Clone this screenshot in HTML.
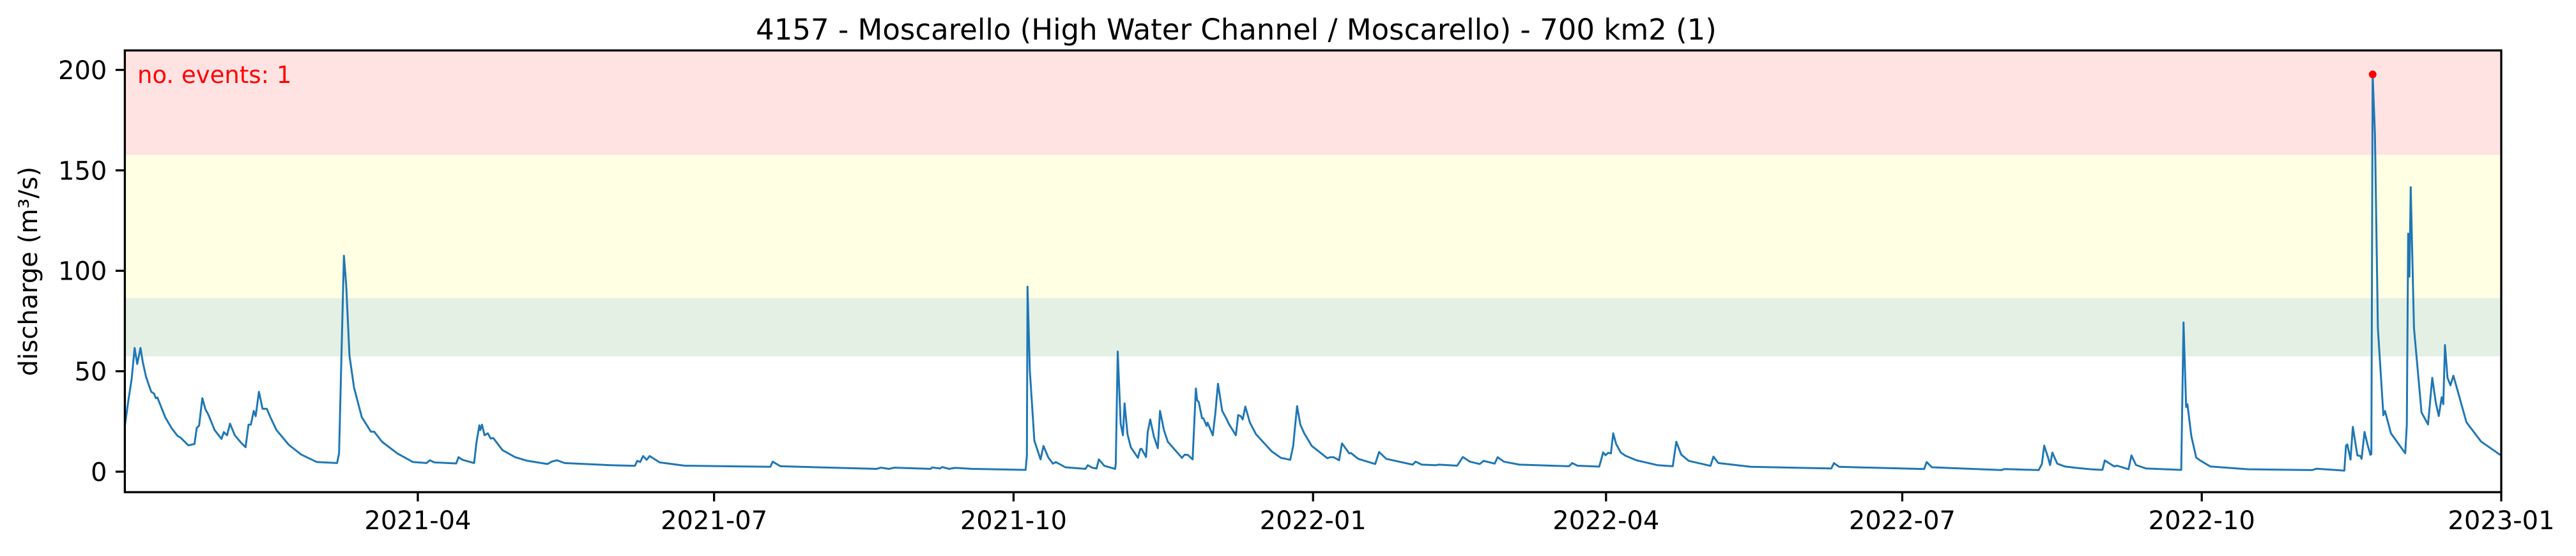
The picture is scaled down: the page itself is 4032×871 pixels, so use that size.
<!DOCTYPE html>
<html>
<head>
<meta charset="utf-8">
<style>
  html, body { margin: 0; padding: 0; background: #ffffff; }
  svg { display: block; font-family: "DejaVu Sans", "Liberation Sans", sans-serif; }
</style>
</head>
<body>
<svg id="chart" xmlns="http://www.w3.org/2000/svg" width="4032" height="871" viewBox="0 0 4032 871">
  <rect x="0" y="0" width="4032" height="871" fill="#ffffff"/>
  <g id="bands"></g>
  <g id="series"></g>
  <g id="axes"></g>
  <text x="1935" y="62" font-size="45" text-anchor="middle" fill="#000">4157 - Moscarello (High Water Channel / Moscarello) - 700 km2 (1)</text>
  <text transform="translate(58,425) rotate(-90)" font-size="40" text-anchor="middle" fill="#000">discharge (m³/s)</text>
  <text x="215" y="130" font-size="37" fill="#ff0000">no. events: 1</text>
</svg>
<script>
// ---- data (day offsets from 2021-01-01, discharge m3/s) ----
const dayOffsets = [0,1.1,2.1,3,3.8,4.8,5.5,6.5,8.1,9,9.5,10,12.4,14.3,16.2,17.1,19.5,21.4,22.1,22.8,23.8,24.7,25.7,27.6,29.7,30.4,31.4,32.3,33.8,35.7,37.1,38,38.7,39.6,40.2,41.2,42.3,43.6,44.7,46.6,50.4,54.2,59,65.2,65.8,66.6,67.3,68,69,70.4,72.8,75.6,76.6,79,83.7,88.5,92.7,93.7,95.1,101.8,102.5,103.7,107.3,108,108.9,109.2,109.7,110.5,111.5,112.4,113.2,116,119.9,123.7,129.8,131.1,132.7,135.1,149.1,
156.7,157.4,158.3,159.2,160.3,161.2,164.3,171.9,198.3,199,201.4,230.9,232.3,234.7,236.4,247.5,248,250.4,251.1,253.2,255.1,260.3,276.7,277.1,277.3,278,279.4,281.3,282.2,283.7,285.1,286,288.9,295.1,295.8,297.3,
298.5,299.2,300.9,304.2,304.4,305,305.9,306.6,307.1,308,309,311.2,311.9,312.3,313.7,314.2,315,316.1,317.3,318,319.2,320.4,324.7,325.6,326.6,328,329,329.4,329.9,330.9,331.3,332.3,332.6,334.2,335,335.8,337.1,338.5,339.1,341.3,342,342.8,343.4,344.2,345.6,347.5,352.3,355.1,358,358.9,360.1,361.1,362.3,364.6,369.4,370.3,371.3,373,373.9,376.1,376.6,378.9,384.1,385.3,387.5,395.6,396.5,398.4,402.7,403.6,409.3,411,413.2,416.2,417.4,420.8,421.7,423.6,428.4,443.6,444.6,446.2,
452.9,453.6,454.1,454.8,455.7,456.5,457.2,458.1,459.5,460.9,464.3,470.9,475.5,476.6,478.1,480.4,487.1,488,489.5,499.5,524.2,525,526.6,552.7,553.5,555.1,576.5,577.3,587.9,588.9,589.6,590.8,591.4,592.1,593.6,595.9,599.4,603.9,607.5,608.2,611.1,612,615.5,616.4,617.8,620.9,631.7,632.4,633.2,633.6,634.8,636.3,637.5,640.6,652.2,671.9,673.3,681.8,682.3,682.7,683.7,684.4,685.8,686.7,687.1,688,688.9,689.8,690.1,690.5,691.2,692.1,693.8,694.3,696.1,700.5,701,701.4,701.8,702.2,703.2,705.5,707.5,708.8,709.9,710.8,711.7,712.2,712.7,713.5,714.4,715.3,716.7,719.3,723.8,730];
const dischargeValues = [22.8,35.6,46.2,61.6,53.6,61.6,54.7,47.3,39.8,38.8,36.6,36.9,27.1,21.8,17.8,17,13.1,13.8,21.8,22.9,36.6,31.3,28.2,20.7,16.3,19.7,18.1,23.9,18.1,14.4,12.2,23.4,23.4,30.3,27.6,39.8,31.3,31.3,27.1,20.7,13.3,8.5,4.8,4.3,9.1,61,107.5,92.8,57.8,41.9,27.1,19.9,19.9,14.9,9.1,4.8,4.3,5.7,4.6,4.1,7.2,5.9,4.3,14.4,23.1,20.7,23.4,18.1,19.1,16.5,16.7,10.7,7.2,5.4,3.8,5,5.7,4.3,3.2,
2.9,5.4,4.8,7.8,5.9,7.8,4.6,3,2.4,5,2.7,1.4,2,1.4,2,1.4,2.1,1.6,2.3,1.4,1.9,1.4,0.9,8,92.1,50.4,15.4,6.1,12.8,7,4,4.8,2.2,1.4,3.2,1.9,
1.6,6.1,2.9,1.4,3.8,59.8,23.9,18.1,34,18.6,12.2,6.9,11.2,11.4,7.3,19.7,26,17.6,11.7,30.3,20.7,14.9,6.9,8.5,8.3,6.1,41.4,35.6,34.5,26.6,26.6,22.8,24.4,18.1,29.2,43.8,30.3,26,23.9,18.1,28.2,27.6,26,32.4,24.4,18.6,10.1,6.9,5.9,12.8,32.6,23.4,19.1,12.8,6.7,7.2,7.2,5.7,14.1,9.1,9.3,6.4,3.8,9.8,6.4,3.5,5,3.5,3.2,3.5,3,7.3,5,3.8,5.4,4,7.2,5,3.5,2.7,4.3,3,
2.5,6.4,9.6,8.2,9.4,9.1,19.1,13.8,9.6,8,5.7,3.2,2.7,14.9,8.5,5.4,2.9,7.5,4.3,2.4,1.6,4.3,2.4,1.3,4.8,2.2,0.8,1.3,0.8,3.8,13,7,3.3,9.5,4,2.6,1.9,1.2,0.9,5.6,2.6,3,1.2,8.1,3.3,1.6,0.9,74.3,32.2,33.6,17.7,7,5.6,2.6,1.2,0.8,1.5,0.5,12.9,13.6,6,22.3,8.1,7.8,6.4,19.8,13.6,8.4,8.8,197.8,168.1,71.5,28.1,30.2,19.1,9.2,23.3,118.5,97.1,141.6,71.5,29.5,23.5,46.7,34.3,27.7,37.1,33.6,63,46.7,43,47.8,39.8,24.6,15,8];
const eventDays = [690.5];
const eventValues = [197.8];
const bandLower = [57.4, 86.4, 157.7];
const bandUpper = [86.4, 157.7, 215];
const bandColors = ["#e5f0e5", "#ffffe3", "#ffe3e3"];
const bandNames = ["band-normal", "band-warning", "band-alert"];
const yTickValues = [0, 50, 100, 150, 200];
const xTickDays = [90, 181, 273, 365, 455, 546, 638, 730];
const xTickLabels = ["2021-04","2021-07","2021-10","2022-01","2022-04","2022-07","2022-10","2023-01"];

// ---- scales ----
const L = 195.4, R = 3915, T = 79, B = 771;
const xMin = 0, xMax = 730, yMin = -10.2, yMax = 209.7;
const NS = "http://www.w3.org/2000/svg";
function xs(d) { return L + (d - xMin) / (xMax - xMin) * (R - L); }
function ys(v) { return B - (v - yMin) / (yMax - yMin) * (B - T); }
function mk(tag, attrs, parent) {
  const e = document.createElementNS(NS, tag);
  for (const k in attrs) e.setAttribute(k, attrs[k]);
  parent.appendChild(e);
  return e;
}

const bands = document.getElementById('bands');
for (let i = 0; i < bandLower.length; i++) {
  const top = Math.max(T, ys(bandUpper[i]));
  const r = mk('rect', {x: L, y: top, width: R - L, height: ys(bandLower[i]) - top, fill: bandColors[i]}, bands);
  
  
}

const series = document.getElementById('series');
let dstr = '';
for (let i = 0; i < dayOffsets.length; i++) {
  dstr += (i ? 'L' : 'M') + xs(dayOffsets[i]).toFixed(1) + ',' + ys(dischargeValues[i]).toFixed(1);
}
const line = mk('path', {d: dstr, fill: 'none', stroke: '#1f77b4', 'stroke-width': 3, 'stroke-linejoin': 'round'}, series);


for (let i = 0; i < eventDays.length; i++) {
  const c = mk('circle', {cx: xs(eventDays[i]), cy: ys(eventValues[i]), r: 6, fill: '#ff0000'}, series);
  
  
}

const axes = document.getElementById('axes');
const frame = mk('rect', {x: L, y: T, width: R - L, height: B - T, fill: 'none', stroke: '#000', 'stroke-width': 3.3}, axes);


for (let i = 0; i < yTickValues.length; i++) {
  const y = ys(yTickValues[i]);
  const t = mk('line', {x1: L - 14.5, x2: L, y1: y, y2: y, stroke: '#000', 'stroke-width': 3.3}, axes);
  
  
  const lb = mk('text', {x: L - 28, y: y + 14.5, 'font-size': 40, 'text-anchor': 'end', fill: '#000'}, axes);
  lb.textContent = String(yTickValues[i]);
  
  
}
for (let i = 0; i < xTickDays.length; i++) {
  const x = xs(xTickDays[i]);
  const t = mk('line', {x1: x, x2: x, y1: B, y2: B + 14.5, stroke: '#000', 'stroke-width': 3.3}, axes);
  
  
  const lb = mk('text', {x: x, y: B + 58, 'font-size': 40, 'text-anchor': 'middle', fill: '#000'}, axes);
  lb.textContent = xTickLabels[i];
  
  
}
</script>
</body>
</html>
